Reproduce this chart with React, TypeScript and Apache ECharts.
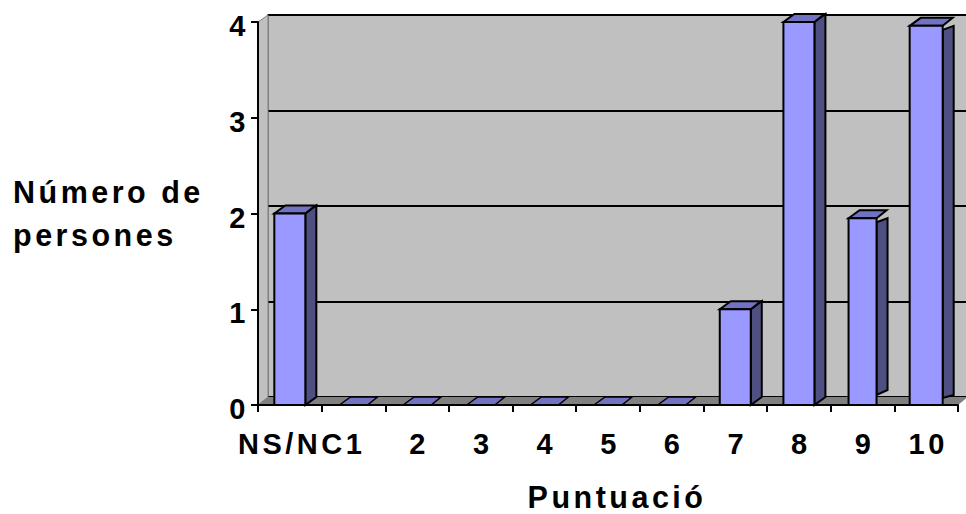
import React, { useEffect, useRef } from "react";
import * as echarts from "echarts";

const categories = ["NS/NC", "1", "2", "3", "4", "5", "6", "7", "8", "9", "10"];
const values = [2, 0, 0, 0, 0, 0, 0, 1, 4, 1.95, 3.96];
const yTicks = [0, 1, 2, 3, 4];
const xTitle = "Puntuació";
const yTitle = "Número de\npersones";

const FONT = "'Liberation Sans', Arial, sans-serif";
const FRONT = "#9999ff";
const TOP = "#7272c2";
const SIDE = "#4f4f82";
const WALL = "#c0c0c0";
const FLOOR = "#808080";
const L = 258, T = 22, W = 700, H = 383, DX = 10, DY = 8;
const FS = 29;
const TITLE_FS = 30.5;

const barWidth = (i: number, v: number) => (v === 0 || i === 9 ? 28 : i === 10 ? 33 : 31);
// Bars 9 and 10 have a detached, shallower side face in the reference.
const detachedSide = (i: number) => i === 9 || i === 10;

function renderBar(params: any, api: any) {
  const i = api.value(0);
  const v = api.value(1);
  const [cx, yTop] = api.coord([i, v]);
  const [, y0] = api.coord([i, 0]);
  const w = barWidth(i, v);
  const l = cx - w / 2;
  const r = cx + w / 2;
  const line = { stroke: "#000", lineWidth: 2, lineJoin: "miter" };
  const children: any[] = [];
  if (v > 0) {
    const side = detachedSide(i)
      ? [[r, yTop + 4], [r + DX + 1, yTop], [r + DX + 1, y0 - (i === 9 ? 15 : 10)], [r, y0 - (i === 9 ? 10 : 7)]]
      : [[r, yTop], [r + DX + 1, yTop - DY], [r + DX + 1, y0 - DY], [r, y0]];
    children.push({ type: "polygon", shape: { points: side }, style: { fill: SIDE, ...line } });
  }
  children.push({
    type: "polygon",
    shape: { points: [[l, yTop], [l + DX + 1, yTop - DY], [r + DX, yTop - DY], [r, yTop]] },
    style: { fill: TOP, ...line, lineWidth: v > 0 ? 2 : 1.5 },
  });
  if (v > 0) {
    children.push({
      type: "rect",
      shape: { x: l, y: yTop, width: w, height: y0 - yTop },
      style: { fill: FRONT, ...line },
    });
  }
  return { type: "group", children };
}

export default function App() {
  const ref = useRef<HTMLDivElement>(null);
  useEffect(() => {
    document.body.style.margin = "0";
    const chart = echarts.init(ref.current!, undefined, { renderer: "svg" });
    chart.setOption({
      animation: false,
      backgroundColor: "#fff",
      grid: [
        { left: L, top: T, width: W, height: H, outerBoundsMode: "none" },
        {
          left: L + DX, top: T - DY + 1, width: W, height: H - 1, outerBoundsMode: "none",
          show: true, backgroundColor: WALL, borderColor: FLOOR, borderWidth: 2,
        },
      ],
      xAxis: [
        {
          type: "category", gridIndex: 0, data: categories, z: 4,
          name: xTitle, nameLocation: "middle", nameGap: 76,
          nameTextStyle: { fontFamily: FONT, fontWeight: "bold", fontSize: TITLE_FS, color: "#000", padding: [0, 0, 0, 18] },
          axisLine: { lineStyle: { color: "#000", width: 2 } },
          axisTick: { show: true, length: 7, lineStyle: { color: "#000", width: 2 } },
          axisLabel: { interval: 0, margin: 24, padding: [0, 0, 0, 4], fontFamily: FONT, fontWeight: "bold", fontSize: FS, color: "#000" },
        },
        { type: "category", gridIndex: 1, data: categories, show: false },
      ],
      yAxis: [
        {
          type: "value", gridIndex: 0, min: 0, max: 4, interval: 1, z: 4,
          name: yTitle, nameLocation: "middle", nameRotate: 0, nameGap: 245,
          nameTextStyle: {
            fontFamily: FONT, fontWeight: "bold", fontSize: TITLE_FS, color: "#000",
            align: "left", lineHeight: 43, padding: [12, 0, 0, 0],
          },
          splitLine: { show: false },
          axisLine: { show: true, lineStyle: { color: "#000", width: 2 } },
          axisTick: { show: true, length: 7, lineStyle: { color: "#000", width: 2 } },
          axisLabel: {
            margin: 9, verticalAlign: "top", lineHeight: 8, fontFamily: FONT, fontWeight: "bold", fontSize: FS, color: "#000",
            formatter: (v: number) => (yTicks.includes(v) ? String(v) : ""),
          },
        },
        {
          type: "value", gridIndex: 1, min: 0, max: 4, interval: 1,
          axisLine: { show: false }, axisTick: { show: false }, axisLabel: { show: false },
          splitLine: { show: true, lineStyle: { color: "#000", width: 2 } },
        },
      ],
      graphic: [
        {
          type: "polygon", z: 1, silent: true,
          shape: { points: [[L, T], [L + DX, T - DY + 1], [L + DX, T + H - DY], [L, T + H]] },
          style: { fill: WALL, stroke: FLOOR, lineWidth: 1 },
        },
        {
          type: "polygon", z: 1, silent: true,
          shape: { points: [[L, T + H], [L + DX, T + H - DY], [L + W + DX, T + H - DY], [L + W, T + H]] },
          style: { fill: FLOOR },
        },
      ],
      series: [
        {
          type: "custom", xAxisIndex: 0, yAxisIndex: 0, z: 3, clip: false,
          data: values.map((v, i) => [i, v]),
          encode: { x: 0, y: 1 },
          renderItem: renderBar,
        },
      ],
    });
    return () => chart.dispose();
  }, []);
  return <div ref={ref} style={{ width: 966, height: 514, letterSpacing: "3.5px" }} />;
}
